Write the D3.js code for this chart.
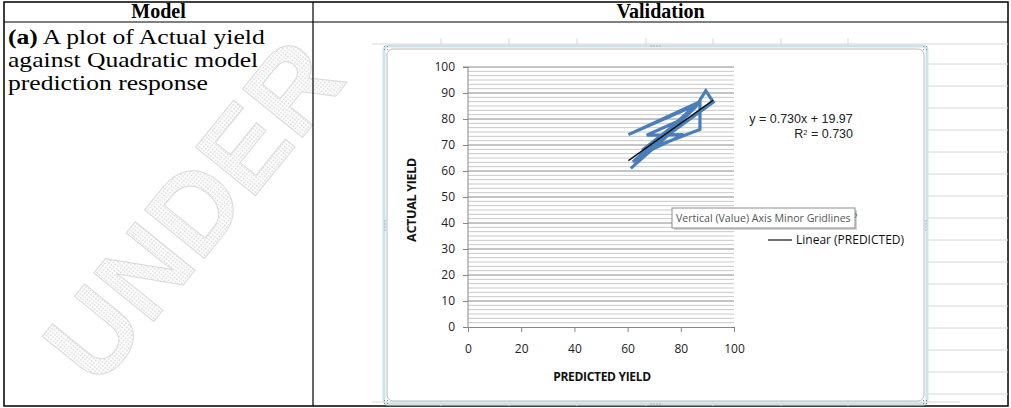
<!DOCTYPE html>
<html><head><meta charset="utf-8">
<script src="https://cdn.jsdelivr.net/npm/d3@7"></script>
<style>html,body{margin:0;padding:0;background:#fff;} svg{display:block;}</style>
</head><body>
<script>
// ---- data ----
const predicted = [61.2, 80.5, 62.0, 86.8, 60.3, 87.2, 87.2, 69.5, 85.5, 89.4, 92.2, 64.5, 81.0, 67.2, 80.8, 65.5, 83.0, 63.8];
const actual    = [61.0, 78.5, 63.5, 86.5, 74.0, 86.0, 76.0, 69.0, 84.5, 90.9, 86.5, 66.0, 74.0, 73.8, 80.0, 68.0, 82.0, 64.5];
const xTicks = [0, 20, 40, 60, 80, 100];
const yTicks = [0, 10, 20, 30, 40, 50, 60, 70, 80, 90, 100];
const trendSlope = 0.730, trendIntercept = 19.97;
const equationText = "y = 0.730x + 19.97";
const r2Value = "0.730";
const headers = ["Model", "Validation"];
const rowLines = ["A plot of Actual yield", "against Quadratic model", "prediction response"];

const W = 1011, H = 408;
const svg = d3.select("body").append("svg").attr("width", W).attr("height", H);
svg.append("rect").attr("width", W).attr("height", H).attr("fill", "#fff");

// watermark
const defs = svg.append("defs");
const pat = defs.append("pattern").attr("id","hatch").attr("width",3).attr("height",3).attr("patternUnits","userSpaceOnUse");
pat.append("rect").attr("width",3).attr("height",3).attr("fill","#fff");
pat.append("rect").attr("width",1.5).attr("height",1.5).attr("fill","#d4d4d4");
svg.append("text").attr("transform","translate(98,390) rotate(-51)")
  .attr("font-family","Liberation Sans").attr("font-weight","bold").attr("font-size",112)
  .attr("fill","url(#hatch)").attr("stroke","#dadada").attr("stroke-width",1)
  .text("UNDER");

// table
const tL = 4, tR = 1008, tT = 2, tB = 406, colX = 313, hdrB = 22;
const tbl = svg.append("g").attr("stroke","#000").attr("fill","none");
tbl.append("rect").attr("x",tL).attr("y",tT).attr("width",tR-tL).attr("height",tB-tT).attr("stroke-width",1.5);
tbl.append("line").attr("x1",tL).attr("x2",tR).attr("y1",hdrB).attr("y2",hdrB).attr("stroke-width",1.2);
tbl.append("line").attr("x1",colX).attr("x2",colX).attr("y1",tT).attr("y2",tB).attr("stroke-width",1.2);
svg.selectAll("text.hdr").data(headers).join("text").attr("class","hdr")
  .attr("x",(d,i)=> i===0 ? (tL+colX)/2 : (colX+tR)/2).attr("y",18)
  .attr("text-anchor","middle").attr("font-family","Liberation Serif").attr("font-weight","bold").attr("font-size",20)
  .text(d=>d);
const rowG = svg.append("g").attr("transform","translate(8,0) scale(1.22,1)");
const rowT = rowG.selectAll("text.row").data(rowLines).join("text").attr("class","row")
  .attr("x",0).attr("y",(d,i)=>44+i*23).attr("font-family","Liberation Serif").attr("font-size",21).attr("fill","#000");
rowT.each(function(d,i){
  const t = d3.select(this);
  if(i===0){ t.append("tspan").attr("font-weight","bold").text("(a)"); t.append("tspan").text(" "+d); }
  else t.text(d);
});

// excel sheet grid behind chart
const sheet = svg.append("g").attr("stroke","#d6d6d6").attr("stroke-width",1);
const sheetRows = d3.range(64, 400, 22);
sheet.selectAll("line.sr").data(sheetRows).join("line").attr("x1",928).attr("x2",1008).attr("y1",d=>d).attr("y2",d=>d);
sheet.append("line").attr("x1",372).attr("x2",1008).attr("y1",44).attr("y2",44);
sheet.append("line").attr("x1",372).attr("x2",960).attr("y1",402).attr("y2",402);
const sheetCols = [441, 509, 577, 646, 713, 781, 848];
sheet.selectAll("line.sc").data(sheetCols).join("line").attr("x1",d=>d).attr("x2",d=>d).attr("y1",38).attr("y2",46);
sheet.selectAll("line.sc2").data(sheetCols).join("line").attr("x1",d=>d).attr("x2",d=>d).attr("y1",401).attr("y2",406);

// chart frame
svg.append("rect").attr("x",384).attr("y",46).attr("width",543).attr("height",358).attr("rx",4)
  .attr("fill","none").attr("stroke","#cde3ea").attr("stroke-width",3);
svg.append("rect").attr("x",387).attr("y",49).attr("width",537).attr("height",352).attr("rx",6)
  .attr("fill","#fff").attr("stroke","#b9b9b9").attr("stroke-width",1);
const handles = [[386,48],[925,48],[386,402],[925,402]];
svg.selectAll("g.hd").data(handles).join("g").attr("class","hd").each(function(d){
  const g=d3.select(this);
  [[-1,-1],[1,-1],[-1,1],[1,1]].forEach(o=>g.append("rect").attr("x",d[0]+o[0]*1.5-0.5).attr("y",d[1]+o[1]*1.5-0.5).attr("width",1).attr("height",1).attr("fill","#888"));
});
[[655,46,"h"],[655,404,"h"],[385,225,"v"],[926,225,"v"]].forEach(([x,y,o])=>{
  for(let k=-3;k<=3;k+=2){
    svg.append("rect").attr("x",o==="h"?x+k*1.5:x-0.5).attr("y",o==="h"?y-0.5:y+k*1.5).attr("width",1).attr("height",1).attr("fill","#888");
  }
});

// scales
const x = d3.scaleLinear().domain([0,100]).range([468,734]);
const y = d3.scaleLinear().domain([0,100]).range([327,67]);

// gridlines
const minor = d3.range(0, 100.0001, 10/6).filter(v=>Math.abs(v/10-Math.round(v/10))>0.01);
svg.append("g").selectAll("line").data(minor).join("line")
  .attr("x1",x(0)).attr("x2",x(100)).attr("y1",d=>y(d)).attr("y2",d=>y(d))
  .attr("stroke","#c8c8c8").attr("stroke-width",1);
svg.append("g").selectAll("line").data(yTicks.filter(d=>d>0)).join("line")
  .attr("x1",x(0)).attr("x2",x(100)).attr("y1",d=>y(d)).attr("y2",d=>y(d))
  .attr("stroke","#8a8a8a").attr("stroke-width",1);

// axes
const fontAx = "Open Sans";
const yAxis = svg.append("g").attr("transform",`translate(${x(0)},0)`)
  .call(d3.axisLeft(y).tickValues(yTicks).tickSize(5).tickPadding(8));
const xAxis = svg.append("g").attr("transform",`translate(0,${y(0)})`)
  .call(d3.axisBottom(x).tickValues(xTicks).tickSize(5).tickPadding(12));
[yAxis,xAxis].forEach(a=>{
  a.select(".domain").attr("stroke","#868686");
  a.selectAll(".tick line").attr("stroke","#868686");
  a.selectAll("text").attr("font-family",fontAx).attr("font-size",12).attr("fill","#222");
});
yAxis.select(".domain").attr("d",`M-5,${y(100)}H0V${y(0)}`);

// axis titles
svg.append("text").attr("x",602).attr("y",381).attr("text-anchor","middle")
  .attr("font-family",fontAx).attr("font-weight","bold").attr("font-size",12).attr("fill","#111")
  .attr("letter-spacing",-0.3).text("PREDICTED YIELD");
svg.append("text").attr("transform","translate(416,200) rotate(-90)").attr("text-anchor","middle")
  .attr("font-family",fontAx).attr("font-weight","bold").attr("font-size",12.5).attr("fill","#111")
  .attr("letter-spacing",-0.3).text("ACTUAL YIELD");

// series
const pts = predicted.map((p,i)=>[p, actual[i]]);
svg.append("path").datum(pts)
  .attr("d", d3.line().x(d=>x(d[0])).y(d=>y(d[1])))
  .attr("fill","none").attr("stroke","#4a7ebb").attr("stroke-width",3.2).attr("stroke-linejoin","miter");

// trendline
const xmin = d3.min(predicted), xmax = d3.max(predicted);
svg.append("line").attr("x1",x(xmin)).attr("y1",y(trendSlope*xmin+trendIntercept))
  .attr("x2",x(xmax)).attr("y2",y(trendSlope*xmax+trendIntercept))
  .attr("stroke","#111").attr("stroke-width",1.4);

// equation
const eqFont = "Liberation Sans";
svg.append("text").attr("x",801).attr("y",123).attr("text-anchor","middle")
  .attr("font-family",eqFont).attr("font-size",12.5).attr("fill","#222").text(equationText);
const r2 = svg.append("text").attr("x",853).attr("y",138).attr("text-anchor","end")
  .attr("font-family",eqFont).attr("font-size",12.5).attr("fill","#222");
r2.append("tspan").text("R");
r2.append("tspan").attr("dy",-3.5).attr("font-size",7.5).text("2");
r2.append("tspan").attr("dy",3.5).text(" = " + r2Value);

// legend
svg.append("line").attr("x1",768).attr("x2",792).attr("y1",240).attr("y2",240).attr("stroke","#111").attr("stroke-width",1.2);
svg.append("text").attr("x",796).attr("y",244).attr("font-family",fontAx).attr("font-size",12).attr("fill","#111").text("Linear (PREDICTED)");

// tooltip
svg.append("text").attr("x",852).attr("y",222).attr("font-family",fontAx).attr("font-size",12).attr("fill","#222").text("?");
svg.append("rect").attr("x",674).attr("y",210).attr("width",183).attr("height",20).attr("fill","#aaa").attr("opacity",0.5);
svg.append("rect").attr("x",672).attr("y",208).attr("width",183).attr("height",20).attr("fill","#fff").attr("stroke","#8d8d8d").attr("stroke-width",1);
svg.append("text").attr("x",676).attr("y",222).attr("font-family",fontAx).attr("font-size",10.6).attr("fill","#555")
  .text("Vertical (Value) Axis Minor Gridlines");
</script>
</body></html>
